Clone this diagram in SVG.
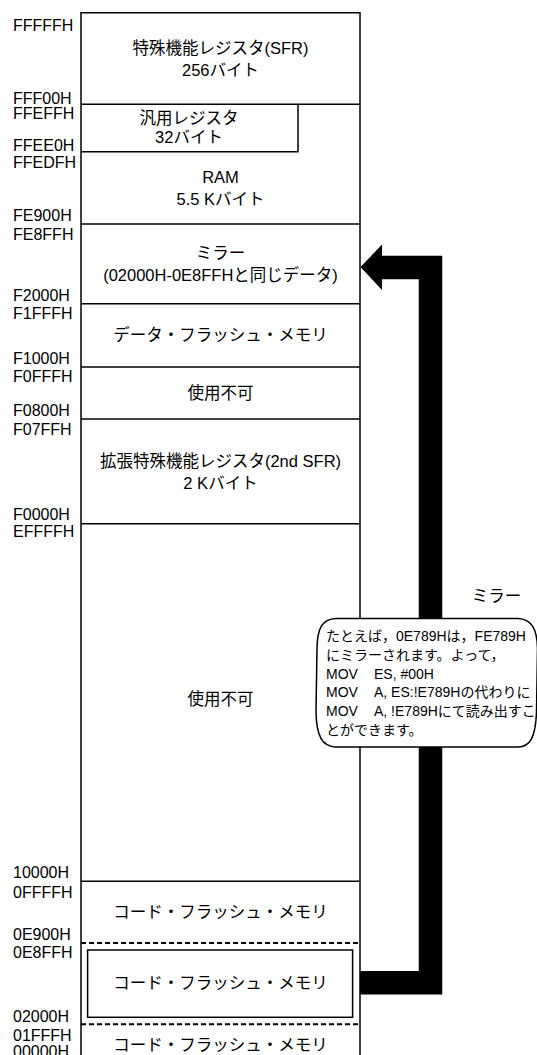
<svg xmlns="http://www.w3.org/2000/svg" width="537" height="1055" viewBox="0 0 537 1055">
<style>
text{font-family:'Liberation Sans','Noto Sans CJK JP',sans-serif;fill:#000}
.lbl{font-size:16px}
.box{font-size:16.5px;text-anchor:middle}
.co{font-size:14px}
.ln{stroke:#000;stroke-width:1.5;fill:none}
.dash{stroke:#000;stroke-width:2;stroke-dasharray:5 3;fill:none}
</style>
<rect width="537" height="1055" fill="#fff"/>
<g id="labels" class="lbl">
<text x="13" y="31">FFFFFH</text>
<text x="13" y="104">FFF00H</text>
<text x="13" y="119">FFEFFH</text>
<text x="13" y="151">FFEE0H</text>
<text x="13" y="168">FFEDFH</text>
<text x="13" y="221">FE900H</text>
<text x="13" y="239.5">FE8FFH</text>
<text x="13" y="301">F2000H</text>
<text x="13" y="319">F1FFFH</text>
<text x="13" y="363.5">F1000H</text>
<text x="13" y="381.5">F0FFFH</text>
<text x="13" y="415.5">F0800H</text>
<text x="13" y="434.5">F07FFH</text>
<text x="13" y="520">F0000H</text>
<text x="13" y="537">EFFFFH</text>
<text x="13" y="878">10000H</text>
<text x="13" y="897.5">0FFFFH</text>
<text x="13" y="939.5">0E900H</text>
<text x="13" y="958">0E8FFH</text>
<text x="13" y="1021.5">02000H</text>
<text x="13" y="1040.5">01FFFH</text>
<text x="13" y="1056.5">00000H</text>
</g>
<g id="connectors">
<polyline points="360,982.7 430.5,982.7 430.5,267.5 380,267.5" fill="none" stroke="#000" stroke-width="23.5" stroke-linejoin="miter"/>
<polygon points="360.5,267 382,244.6 382,290" fill="#000"/>
</g>
<g id="frame">
<path class="ln" d="M81,1056 V12.7 H360 V1056"/>
</g>
<g id="sfr">
<line class="ln" x1="81" y1="104.3" x2="360" y2="104.3"/>
<text class="box" x="220.5" y="54">特殊機能レジスタ(SFR)</text>
<text class="box" x="220.5" y="76">256バイト</text>
</g>
<g id="gpreg">
<path class="ln" d="M298,104.3 V151.7 H81"/>
<text class="box" x="189" y="124.3">汎用レジスタ</text>
<text class="box" x="189" y="142.7">32バイト</text>
</g>
<g id="ram">
<line class="ln" x1="81" y1="224" x2="360" y2="224"/>
<text class="box" x="220.5" y="182.7">RAM</text>
<text class="box" x="220.5" y="205.3">5.5 Kバイト</text>
</g>
<g id="mirror">
<line class="ln" x1="81" y1="303.8" x2="360" y2="303.8"/>
<text class="box" x="220.5" y="258.5">ミラー</text>
<text class="box" x="220.5" y="280.7">(02000H-0E8FFHと同じデータ)</text>
</g>
<g id="dataflash">
<line class="ln" x1="81" y1="367" x2="360" y2="367"/>
<text class="box" x="220.5" y="340.6">データ・フラッシュ・メモリ</text>
</g>
<g id="reserved1">
<line class="ln" x1="81" y1="419" x2="360" y2="419"/>
<text class="box" x="220.5" y="398.7">使用不可</text>
</g>
<g id="sfr2">
<line class="ln" x1="81" y1="523.7" x2="360" y2="523.7"/>
<text class="box" x="220.5" y="467">拡張特殊機能レジスタ(2nd SFR)</text>
<text class="box" x="220.5" y="489.3">2 Kバイト</text>
</g>
<g id="reserved2">
<line class="ln" x1="81" y1="881.2" x2="360" y2="881.2"/>
<text class="box" x="220.5" y="705">使用不可</text>
</g>
<g id="codeflash1">
<text class="box" x="220.5" y="918">コード・フラッシュ・メモリ</text>
</g>
<g id="codeflash2">
<line class="dash" x1="81" y1="943.1" x2="360" y2="943.1"/>
<rect class="ln" x="87.6" y="950" width="265" height="67.3"/>
<text class="box" x="220.5" y="989">コード・フラッシュ・メモリ</text>
<line class="dash" x1="81" y1="1024.2" x2="360" y2="1024.2"/>
</g>
<g id="codeflash3">
<text class="box" x="220.5" y="1050.7">コード・フラッシュ・メモリ</text>
</g>
<g id="mirror-label">
<text class="box" x="496.5" y="602">ミラー</text>
</g>
<g id="callout">
<path d="M336,618.5 C322,619 317.5,628 317,648 L316,712 C316.5,736 322,746.5 336,747 L518,747 C530,746.5 535.5,738 536.5,712 L537.5,648 C537,628 531,619 518,618.5 Z" fill="#fff" stroke="#000" stroke-width="1.5"/>
<g class="co">
<text x="326" y="640.7">たとえば，0E789Hは，FE789H</text>
<text x="326" y="659.6">にミラーされます。よって，</text>
<text x="326" y="678.5">MOV<tspan x="374">ES, #00H</tspan></text>
<text x="326" y="697.4">MOV<tspan x="374">A, ES:!E789Hの代わりに</tspan></text>
<text x="326" y="716.3">MOV<tspan x="374">A, !E789Hにて読み出すこ</tspan></text>
<text x="326" y="735.2">とができます。</text>
</g>
</g>
</svg>
